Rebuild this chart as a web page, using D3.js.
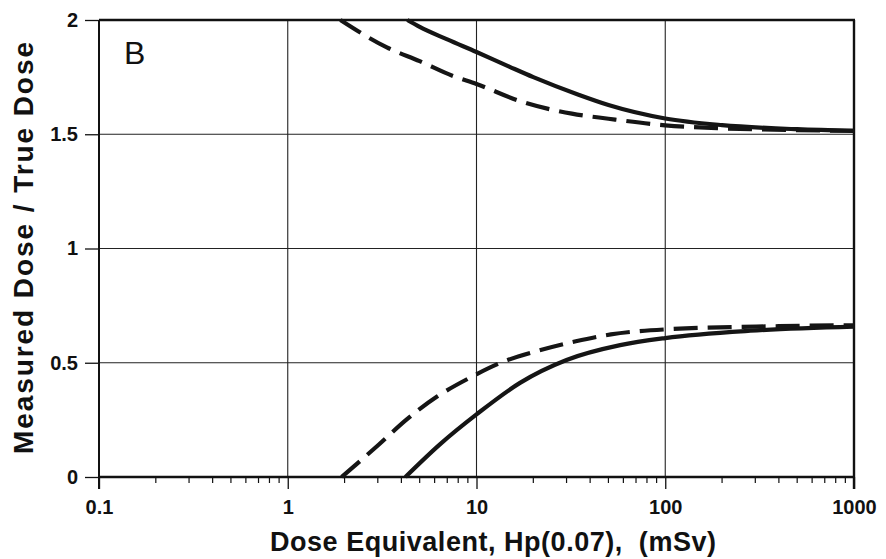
<!DOCTYPE html>
<html><head><meta charset="utf-8">
<script src="https://cdn.jsdelivr.net/npm/d3@7"></script>
<style>
body{margin:0;background:#fff;}
svg{display:block;font-family:"Liberation Sans",Arial,Helvetica,sans-serif;}
</style></head>
<body>
<svg id="c" width="886" height="559"></svg>
<script>
// ---- data ----
const xTickValues = [0.1, 1, 10, 100, 1000];
const xTickLabels = ["0.1", "1", "10", "100", "1000"];
const yTickValues = [0, 0.5, 1, 1.5, 2];
const yTickLabels = ["0", "0.5", "1", "1.5", "2"];

const upperSolidDose  = [4.3, 5, 7, 10, 15, 20, 35, 50, 100, 200, 500, 1000];
const upperSolidRatio = [2.0, 1.97, 1.915, 1.86, 1.795, 1.75, 1.672, 1.628, 1.569, 1.54, 1.522, 1.515];

const upperDashDose  = [1.9, 3.35, 5, 7.5, 10, 17, 32, 50, 100, 200, 500, 1000];
const upperDashRatio = [2.0, 1.88, 1.82, 1.755, 1.72, 1.645, 1.59, 1.568, 1.539, 1.526, 1.518, 1.515];

const lowerSolidDose  = [4.2, 6.4, 10, 17, 30, 57.7, 100, 282, 1000];
const lowerSolidRatio = [0, 0.143, 0.274, 0.412, 0.512, 0.577, 0.608, 0.64, 0.658];

const lowerDashDose  = [1.93, 3.02, 4.27, 6.21, 9.15, 13.7, 21.5, 33.6, 51.5, 100, 400, 1000];
const lowerDashRatio = [0, 0.14, 0.252, 0.353, 0.433, 0.503, 0.554, 0.594, 0.624, 0.646, 0.66, 0.664];

const xTitle = "Dose Equivalent, Hp(0.07),  (mSv)";
const yTitle = "Measured Dose / True Dose";
const panelLabel = "B";

// ---- layout ----
const svg = d3.select("#c");
const L = 99, R = 854, T = 20, B = 477;
const x = d3.scaleLog().domain([0.1, 1000]).range([L, R]);
const y = d3.scaleLinear().domain([0, 2]).range([B, T]);
const FONT = "'Liberation Sans',Arial,Helvetica,sans-serif";

// grid lines
const g = svg.append("g");
g.selectAll("line.vg").data(xTickValues.slice(1, -1)).join("line")
  .attr("x1", d => x(d)).attr("x2", d => x(d)).attr("y1", T).attr("y2", B)
  .attr("stroke", "#222").attr("stroke-width", 1.1);
g.selectAll("line.hg").data(yTickValues.slice(1, -1)).join("line")
  .attr("x1", L).attr("x2", R).attr("y1", d => y(d)).attr("y2", d => y(d))
  .attr("stroke", "#222").attr("stroke-width", 1.1);

// bottom axis with minor ticks
const minor = [];
for (let dec = 0.1; dec < 1000; dec *= 10) for (let k = 2; k <= 9; k++) minor.push(+(dec * k).toPrecision(3));
const xAxis = d3.axisBottom(x).tickValues(xTickValues).tickFormat((d, i) => xTickLabels[i])
  .tickSizeInner(12).tickSizeOuter(0).tickPadding(11);
const ax = svg.append("g").attr("transform", `translate(0,${B})`).call(xAxis);
ax.attr("font-size", null).attr("font-family", null);
ax.select(".domain").remove();
ax.selectAll(".tick line").attr("stroke", "#111").attr("stroke-width", 1.3);
ax.selectAll(".tick text").style("font-size", "20px").style("font-weight", "bold")
  .style("font-family", FONT).attr("fill", "#111");
svg.append("g").selectAll("line").data(minor).join("line")
  .attr("x1", d => x(d)).attr("x2", d => x(d)).attr("y1", B).attr("y2", B + 6)
  .attr("stroke", "#111").attr("stroke-width", 1.2);

// left axis
const yAxis = d3.axisLeft(y).tickValues(yTickValues).tickFormat((d, i) => yTickLabels[i])
  .tickSizeInner(14).tickSizeOuter(0).tickPadding(7);
const ay = svg.append("g").attr("transform", `translate(${L},0)`).call(yAxis);
ay.attr("font-size", null).attr("font-family", null);
ay.select(".domain").remove();
ay.selectAll(".tick line").attr("stroke", "#111").attr("stroke-width", 1.3);
ay.selectAll(".tick text").style("font-size", "20px").style("font-weight", "bold")
  .style("font-family", FONT).attr("fill", "#111");

// frame
svg.append("line").attr("x1", L).attr("x2", L).attr("y1", T).attr("y2", B + 12).attr("stroke", "#111").attr("stroke-width", 2);
svg.append("line").attr("x1", L).attr("x2", R).attr("y1", B).attr("y2", B).attr("stroke", "#111").attr("stroke-width", 2.6);
svg.append("line").attr("x1", L).attr("x2", R + 1).attr("y1", T).attr("y2", T).attr("stroke", "#111").attr("stroke-width", 2.6);
svg.append("line").attr("x1", R).attr("x2", R).attr("y1", T).attr("y2", B + 12).attr("stroke", "#111").attr("stroke-width", 2.4);

// curves
svg.append("clipPath").attr("id", "clip").append("rect")
  .attr("x", L).attr("y", T - 2).attr("width", R - L).attr("height", B - T + 4);
const line = d3.line().x(d => x(d[0])).y(d => y(d[1])).curve(d3.curveMonotoneX);
const series = [
  {dose: upperSolidDose, ratio: upperSolidRatio, dash: null},
  {dose: upperDashDose, ratio: upperDashRatio, dash: "24,10"},
  {dose: lowerSolidDose, ratio: lowerSolidRatio, dash: null},
  {dose: lowerDashDose, ratio: lowerDashRatio, dash: "24,10"}
];
svg.append("g").attr("clip-path", "url(#clip)").selectAll("path").data(series).join("path")
  .attr("d", s => line(s.dose.map((d, i) => [d, s.ratio[i]])))
  .attr("fill", "none").attr("stroke", "#151515").attr("stroke-width", 4.2)
  .attr("stroke-dasharray", s => s.dash);

// labels
svg.append("text").attr("x", 124).attr("y", 64).style("font-size", "32px").style("font-family", FONT)
  .attr("fill", "#111").text(panelLabel);
svg.append("text").attr("x", 493).attr("y", 551).attr("text-anchor", "middle")
  .style("font-size", "27px").style("font-weight", "bold").style("font-family", FONT)
  .style("white-space", "pre").attr("xml:space", "preserve")
  .attr("textLength", 446).attr("lengthAdjust", "spacing")
  .attr("fill", "#111").text(xTitle);
svg.append("text").attr("transform", "translate(33,248) rotate(-90)").attr("text-anchor", "middle")
  .style("font-size", "28px").style("font-weight", "bold").style("font-family", FONT)
  .attr("textLength", 412).attr("lengthAdjust", "spacing")
  .attr("fill", "#111").text(yTitle);
</script>
</body></html>
